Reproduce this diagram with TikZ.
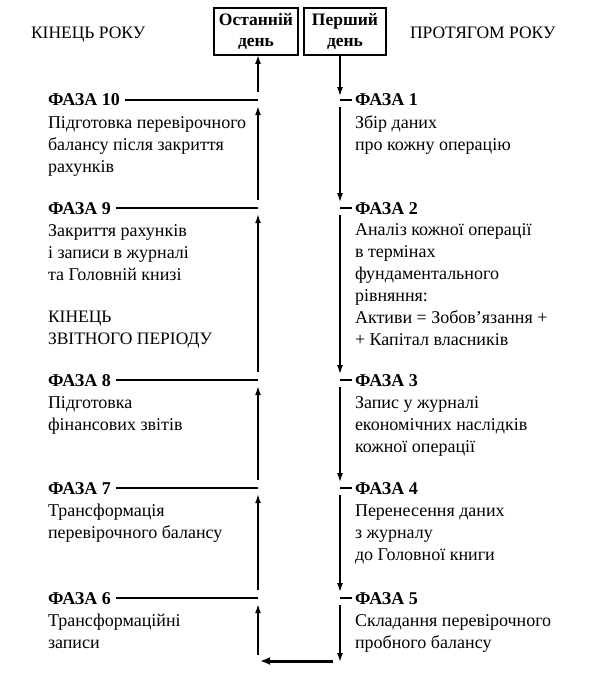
\documentclass[tikz,border=0pt]{standalone}
\usepackage{fontspec}
\setmainfont{Liberation Serif}
\usetikzlibrary{arrows.meta}
\begin{document}
\begin{tikzpicture}[x=1pt,y=-1pt,
  every node/.style={inner sep=0pt, outer sep=0pt},
  txt/.style={font=\fontsize{18}{22}\selectfont, align=left, anchor=base west},
  phase/.style={font=\fontsize{18}{22}\selectfont\bfseries, anchor=base west},
  hdr/.style={font=\fontsize{17.5}{22}\selectfont, align=left, anchor=base west},
  daybox/.style={draw, line width=1.1pt, minimum height=47pt, align=center, font=\fontsize{17.5}{21}\selectfont\bfseries},
  conn/.style={line width=1.5pt},
  arr/.style={line width=1.5pt, -{Latex[length=9pt,width=6pt]}},
  thickarr/.style={line width=3pt, -{Latex[length=10pt,width=8pt]}},
]
\useasboundingbox (0,0) rectangle (600,674);
% headers (multi-line nodes are placed by the baseline of their last line)
\node[hdr] (hl) at (31,39) {КІНЕЦЬ РОКУ};
\node[hdr] (hr) at (410,39) {ПРОТЯГОМ РОКУ};
\node[daybox, minimum width=84pt] (b1) at (256,31.5) {Останній\\день};
\node[daybox, minimum width=82pt] (b2) at (345,31.5) {Перший\\день};
\coordinate (LX) at (258,0);
\coordinate (RX) at (340,0);
% left phases
\node[phase] (f10) at (48,106) {ФАЗА 10};
\node[txt] (d10) at (48,172) {Підготовка перевірочного\\балансу після закриття\\рахунків};
\node[phase] (f9) at (48,214) {ФАЗА 9};
\node[txt] (d9) at (48,280) {Закриття рахунків\\і записи в журналі\\та Головній книзі};
\node[hdr] (kin) at (48,344) {КІНЕЦЬ\\ЗВІТНОГО ПЕРІОДУ};
\node[phase] (f8) at (48,386) {ФАЗА 8};
\node[txt] (d8) at (48,430) {Підготовка\\фінансових звітів};
\node[phase] (f7) at (48,494) {ФАЗА 7};
\node[txt] (d7) at (48,538) {Трансформація\\перевірочного балансу};
\node[phase] (f6) at (48,604) {ФАЗА 6};
\node[txt] (d6) at (48,648) {Трансформаційні\\записи};
% right phases
\node[phase] (f1) at (355,106) {ФАЗА 1};
\node[txt] (d1) at (355,150) {Збір даних\\про кожну операцію};
\node[phase] (f2) at (355,214) {ФАЗА 2};
\node[txt] (d2) at (355,345) {Аналіз кожної операції\\в термінах\\фундаментального\\рівняння:\\Активи = Зобов’язання +\\+ Капітал власників};
\node[phase] (f3) at (355,386) {ФАЗА 3};
\node[txt] (d3) at (355,452) {Запис у журналі\\економічних наслідків\\кожної операції};
\node[phase] (f4) at (355,494) {ФАЗА 4};
\node[txt] (d4) at (355,560) {Перенесення даних\\з журналу\\до Головної книги};
\node[phase] (f5) at (355,604) {ФАЗА 5};
\node[txt] (d5) at (355,648) {Складання перевірочного\\пробного балансу};
% junction coordinates
\coordinate (l10) at (f10.east -| LX);
\coordinate (l9) at (f9.east -| LX);
\coordinate (l8) at (f8.east -| LX);
\coordinate (l7) at (f7.east -| LX);
\coordinate (l6) at (f6.east -| LX);
\coordinate (r1) at (f1.west -| RX);
\coordinate (r2) at (f2.west -| RX);
\coordinate (r3) at (f3.west -| RX);
\coordinate (r4) at (f4.west -| RX);
\coordinate (r5) at (f5.west -| RX);
\coordinate (bl) at (260,661);
\coordinate (br) at (333,661);
% left horizontal lines
\foreach \n in {10,9,8,7,6} \draw[conn] ([xshift=5pt]f\n.east) -- (l\n);
% right dashes
\foreach \n in {1,2,3,4,5} \draw[conn] (r\n) -- ([xshift=-3pt]f\n.west);
% left arrows (upward)
\draw[arr] ([yshift=8pt]l10) -- (l10 |- b1.south);
\draw[arr] ([yshift=8pt]l9) -- ([yshift=-6pt]l10);
\draw[arr] ([yshift=8pt]l8) -- ([yshift=-6pt]l9);
\draw[arr] ([yshift=8pt]l7) -- ([yshift=-6pt]l8);
\draw[arr] ([yshift=8pt]l6) -- ([yshift=-6pt]l7);
\draw[arr] ([yshift=6pt]bl -| LX) -- ([yshift=-6pt]l6);
% right arrows (downward)
\draw[arr] (b2.south -| RX) -- ([yshift=4pt]r1);
\draw[arr] ([yshift=-7pt]r1) -- ([yshift=6pt]r2);
\draw[arr] ([yshift=-7pt]r2) -- ([yshift=6pt]r3);
\draw[arr] ([yshift=-7pt]r3) -- ([yshift=6pt]r4);
\draw[arr] ([yshift=-7pt]r4) -- ([yshift=6pt]r5);
\draw[arr] ([yshift=-7pt]r5) -- ([yshift=-1pt]br -| RX);
% bottom return arrow
\draw[thickarr] (br) -- (bl);
\end{tikzpicture}
\end{document}
